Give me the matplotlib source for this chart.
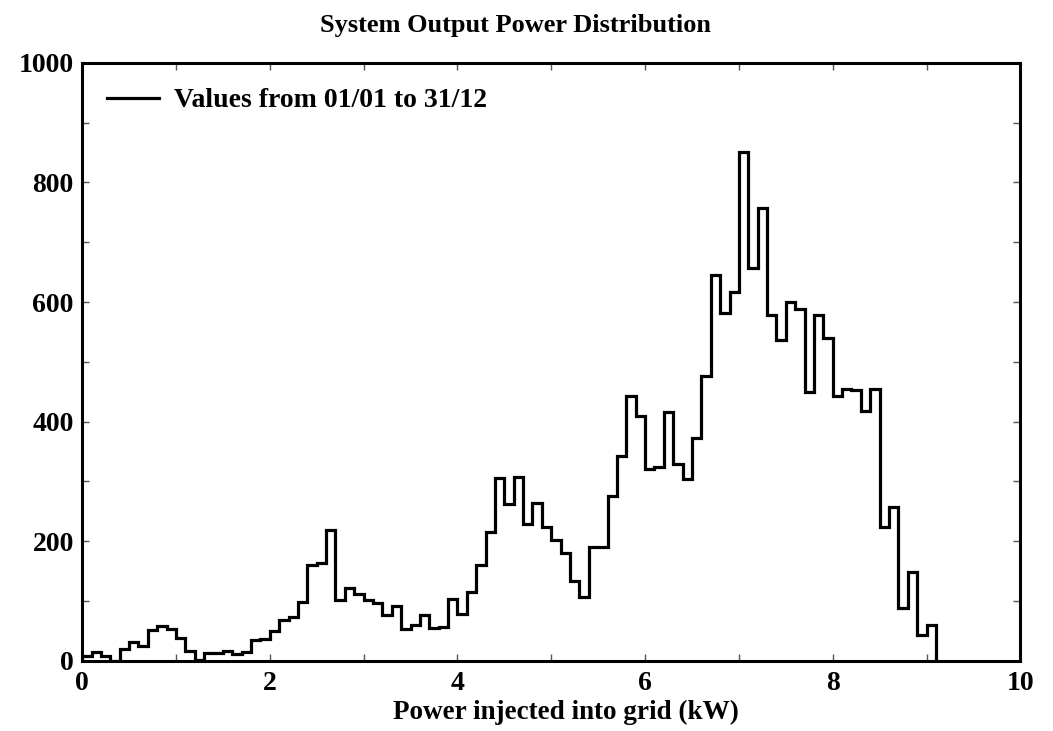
import numpy as np
import matplotlib
matplotlib.use("Agg")
import matplotlib.pyplot as plt
from matplotlib.ticker import MultipleLocator

# hourly output power histogram, 0.1 kW bins starting at 0 kW
BIN_WIDTH_KW = 0.1
counts = [
    8, 15, 8, 0, 19, 31, 25, 51, 58, 53,
    38, 17, 2, 13, 13, 17, 12, 14, 35, 36,
    50, 68, 74, 99, 161, 163, 218, 101, 121, 112,
    102, 97, 77, 91, 54, 60, 77, 55, 57, 104,
    78, 115, 160, 216, 306, 263, 308, 228, 264, 224,
    202, 181, 134, 106, 191, 190, 276, 343, 443, 410,
    321, 324, 416, 329, 304, 373, 477, 645, 582, 616,
    851, 657, 758, 579, 536, 600, 589, 450, 579, 540,
    443, 454, 453, 418, 454, 224, 257, 88, 149, 43,
    60,
]
edges = np.arange(len(counts) + 1) * BIN_WIDTH_KW

TITLE = "System Output Power Distribution"
XLABEL = "Power injected into grid (kW)"
LEGEND_LABEL = "Values from 01/01 to 31/12"

plt.rcParams["font.family"] = ["Liberation Serif", "DejaVu Serif"]
plt.rcParams["font.weight"] = "bold"

fig = plt.figure(figsize=(10.53, 7.31), dpi=100)
ax = fig.add_axes([0.078, 0.096, 0.891, 0.818])

ax.stairs(counts, edges, color="black", linewidth=2.3, label=LEGEND_LABEL)

ax.set_xlim(0, 10)
ax.set_ylim(0, 1000)
ax.xaxis.set_major_locator(MultipleLocator(2))
ax.xaxis.set_minor_locator(MultipleLocator(1))
ax.yaxis.set_major_locator(MultipleLocator(200))
ax.yaxis.set_minor_locator(MultipleLocator(100))
ax.tick_params(which="both", direction="in", top=True, right=True,
               length=5, width=1.0, color="#555555")
ax.tick_params(which="major", labelsize=20)
ax.tick_params(axis="y", pad=6)
ax.tick_params(axis="x", pad=7)
for lab in ax.get_xticklabels() + ax.get_yticklabels():
    lab.set_fontweight("bold")
for spine in ax.spines.values():
    spine.set_linewidth(2.2)

# title and x label are placed on the figure, slightly off the axes centre
fig.text(0.49, 0.965, TITLE, ha="center", va="center",
         fontsize=19, fontweight="bold")
fig.text(0.537, 0.026, XLABEL, ha="center", va="center",
         fontsize=19.5, fontweight="bold")

ax.legend(loc="upper left", frameon=False, handlelength=1.85,
          handletextpad=0.55, borderaxespad=0.5,
          prop={"weight": "bold", "size": 20})

fig.savefig("out.png", dpi=100)
plt.close(fig)
